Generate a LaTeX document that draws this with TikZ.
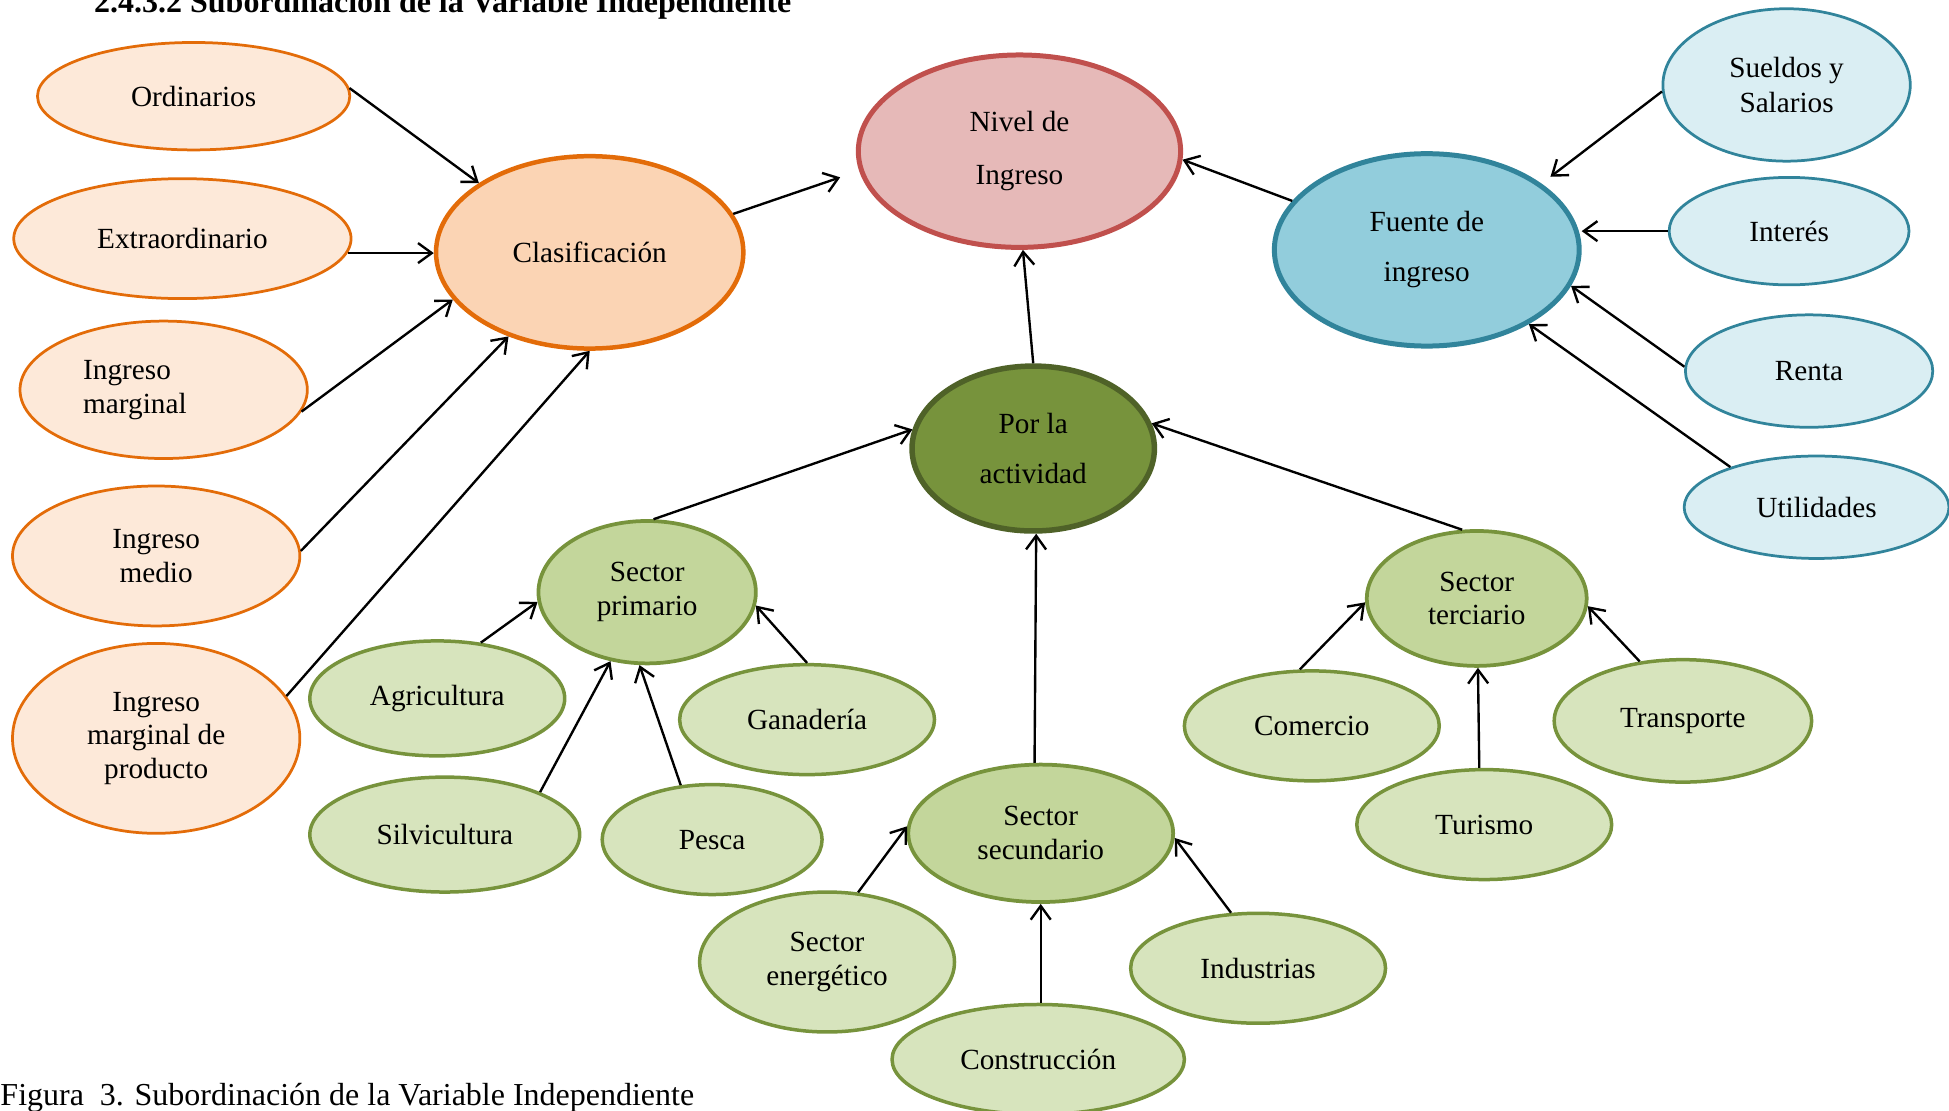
\documentclass[tikz,border=0pt]{standalone}
\usepackage{fontspec}
\setmainfont{Liberation Serif}
\usetikzlibrary{arrows.meta,shapes.geometric,calc}
\definecolor{orLine}{HTML}{E36C09}
\definecolor{orFill}{HTML}{FDE9D9}
\definecolor{orMain}{HTML}{FBD4B4}
\definecolor{rdLine}{HTML}{C0504D}
\definecolor{rdFill}{HTML}{E6B9B8}
\definecolor{blLine}{HTML}{31849B}
\definecolor{blMain}{HTML}{92CDDC}
\definecolor{blFill}{HTML}{DAEEF3}
\definecolor{grDark}{HTML}{4F6228}
\definecolor{grMain}{HTML}{77933C}
\definecolor{grMid}{HTML}{C3D69B}
\definecolor{grLight}{HTML}{D7E4BD}
\begin{document}
\begin{tikzpicture}[x=0.5pt,y=-0.5pt,
  font=\fontsize{11.7}{13.5}\selectfont,
  ell/.style={ellipse,inner sep=0pt,align=center},
  sz/.style 2 args={minimum width=#1pt,minimum height=#2pt},
  leafO/.style={ell,draw=orLine,fill=orFill,line width=1.1pt},
  mainO/.style={ell,draw=orLine,fill=orMain,line width=1.8pt},
  mainR/.style={ell,draw=rdLine,fill=rdFill,line width=2pt},
  mainB/.style={ell,draw=blLine,fill=blMain,line width=2pt},
  leafB/.style={ell,draw=blLine,fill=blFill,line width=1.1pt},
  mainG/.style={ell,draw=grDark,fill=grMain,line width=2.2pt},
  midG/.style={ell,draw=grMain,fill=grMid,line width=1.5pt},
  leafG/.style={ell,draw=grMain,fill=grLight,line width=1.4pt},
  arr/.style={-{Straight Barb[length=5.5pt,width=8pt]},line width=0.95pt},
  outer/.style={anchor=base west,inner sep=0pt,font=\fontsize{12.8}{15}\selectfont}
]
\useasboundingbox (0,0) rectangle (1560,888.5);

% title and caption
\node[outer,font=\fontsize{12.8}{15}\selectfont\bfseries] (tit) at (75,10) {2.4.3.2 Subordinación de la Variable Independiente};
\node[outer] (cap) at (0,884.5) {Figura\ \ 3. Subordinación de la Variable Independiente};

% orange group
\node[leafO,sz={125}{43}] (ord) at (155,77) {Ordinarios};
\node[leafO,sz={135}{48}] (ext) at (146,191) {Extraordinario};
\node[leafO,sz={115}{55},align=left] (img) at (131,312) {Ingreso\\marginal\rule{23pt}{0pt}};
\node[leafO,sz={115}{56}] (imd) at (125,445) {Ingreso\\medio};
\node[leafO,sz={115}{76}] (imp) at (125,591) {Ingreso\\marginal de\\producto};
\node[mainO,sz={123}{77}] (cla) at (472,202) {Clasificación};

% centre
\node[mainR,sz={129}{77}] (niv) at (816,121) {Nivel de\\[7.5pt]Ingreso};

% blue group
\node[mainB,sz={122}{77}] (fue) at (1142,200) {Fuente de\\[6.5pt]ingreso};
\node[leafB,sz={99}{61}] (sue) at (1430,68) {Sueldos y\\[0.5pt]Salarios};
\node[leafB,sz={96}{43}] (int) at (1432,185) {Interés};
\node[leafB,sz={99}{45}] (ren) at (1448,297) {Renta};
\node[leafB,sz={106}{41}] (uti) at (1454,406) {Utilidades};

% green group
\node[mainG,sz={97}{66}] (por) at (827,359) {Por la\\[6.5pt]actividad};
\node[midG,sz={87}{57}] (spri) at (518,474) {Sector\\primario};
\node[leafG,sz={102}{46}] (agr) at (350,559) {Agricultura};
\node[leafG,sz={102}{44}] (gan) at (646,576) {Ganadería};
\node[leafG,sz={108}{46}] (sil) at (356,668) {Silvicultura};
\node[leafG,sz={88}{44}] (pes) at (570,672) {Pesca};
\node[midG,sz={106}{55}] (ssec) at (833,667) {Sector\\secundario};
\node[leafG,sz={102}{56}] (sen) at (662,770) {Sector\\energético};
\node[leafG,sz={102}{44}] (ind) at (1007,775) {Industrias};
\node[leafG,sz={117}{44}] (con) at (831,848) {Construcción};
\node[midG,sz={88}{54}] (ster) at (1182,479) {Sector\\terciario};
\node[leafG,sz={102}{44}] (com) at (1050,581) {Comercio};
\node[leafG,sz={103}{49}] (tra) at (1347,577) {Transporte};
\node[leafG,sz={102}{44}] (tur) at (1188,660) {Turismo};

% connectors
\draw[arr] (ord.3) -- (cla.148);
\draw[arr] (ext.-5) -- (ext.-5 -| cla.west);
\draw[arr] (img.-9) -- (cla.199);
\draw[arr] (imd.2) -- (cla.226);
\draw[arr] (imp.18) -- (cla.south);
\draw[arr,shorten >=8pt] (cla.15) -- (niv.187);
\draw[arr] (fue.160) -- (niv.-3);
\draw[arr,shorten >=4.5pt] (sue.183) -- (fue.30);
\draw[arr] (int.west) -- (int.west -| fue.east);
\draw[arr] (ren.178) -- (fue.-14);
\draw[arr] (uti.155) -- (fue.-36);
\draw[arr] (por.north) -- (niv.-88);
\draw[arr] (spri.85) -- (por.171);
\draw[arr] (ssec.95) -- (por.-88);
\draw[arr] (ster.102) -- (por.12);
\draw[arr] (agr.52) -- (spri.185);
\draw[arr] (gan.north) -- (spri.-7);
\draw[arr] (sil.24) -- (spri.242);
\draw[arr] (pes.120) -- (spri.264);
\draw[arr] (sen.66) -- (ssec.177);
\draw[arr] (con.north -| ssec.south) -- (ssec.south);
\draw[arr] (ind.116) -- (ssec.-2);
\draw[arr] (com.102) -- (ster.182);
\draw[arr] (tur.95) -- (ster.-89);
\draw[arr] (tra.126) -- (ster.-4);
\end{tikzpicture}
\end{document}
